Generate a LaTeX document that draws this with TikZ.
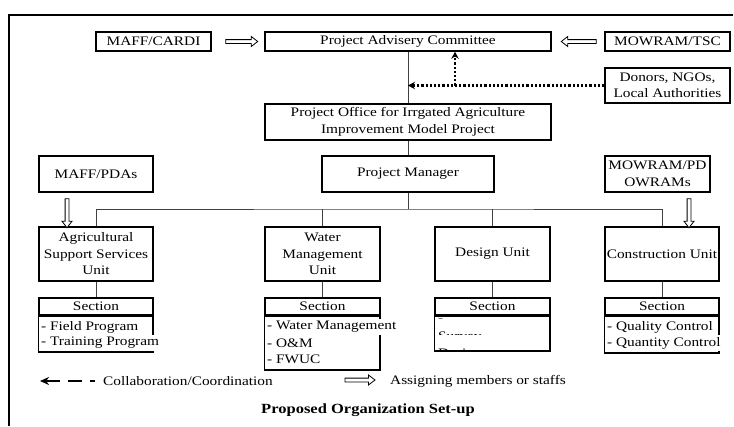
\documentclass[tikz,border=0pt]{standalone}
\usepackage{fontspec}
\setmainfont{Liberation Serif}[FakeStretch=1.18]
\usetikzlibrary{arrows.meta}
\newcommand\fs{\fontsize{13}{16.5}\selectfont}
\tikzset{
  box/.style={draw, line width=1.5pt, inner sep=0pt, align=center, font=\fs},
  conn/.style={line width=0.9pt, draw=black!75},
  item/.style={anchor=west, inner xsep=0pt, inner ysep=2.5pt, fill=white, font=\fs},
  txt/.style={inner sep=0pt, font=\fs},
  dotarrow/.style={line width=2.2pt, dash pattern=on 2.2pt off 2pt, -{Stealth[length=7pt,width=7.5pt]}},
  hollowarrow/.pic={\draw[line width=0.8pt, fill=white] (0,-1.9) -- (#1-6.5,-1.9) -- (#1-6.5,-5) -- (#1,0) -- (#1-6.5,5) -- (#1-6.5,1.9) -- (0,1.9) -- cycle;}
}
\begin{document}
\begin{tikzpicture}[x=1pt,y=-1pt]
\useasboundingbox (0,0) rectangle (734,426);
% frame
\draw[line width=1.5pt] (9,426) -- (9,15) -- (733,15);

% top row
\node[box, minimum width=115, minimum height=19] (cardi) at (153.5,41.5) {MAFF/CARDI};
\node[box, minimum width=286, minimum height=19] (pac) at (408,41.5) {Project Advisery Committee};
\node[box, minimum width=125, minimum height=19] (tsc) at (667.5,41.5) {MOWRAM/TSC};
\node[box, minimum width=125, minimum height=35] (donors) at (667.5,85.5) {Donors, NGOs,\\Local Authorities};
\node[box, minimum width=286, minimum height=36] (office) at (408,122) {Project Office for Irrgated Agriculture\\Improvement Model Project};
\node[box, minimum width=172, minimum height=36] (pm) at (408,174) {Project Manager};
\node[box, minimum width=114, minimum height=36] (pdas) at (96,174) {MAFF/PDAs};
\node[box, minimum width=105, minimum height=36] (pd) at (657.5,174) {MOWRAM/PD\\OWRAMs};

% units
\node[box, minimum width=114, minimum height=54] (ag) at (96,254) {Agricultural\\Support Services\\Unit};
\node[box, minimum width=115, minimum height=54] (water) at (322.5,254) {Water\\Management\\Unit};
\node[box, minimum width=115, minimum height=54] (design) at (492.5,254) {Design Unit};
\node[box, minimum width=114, minimum height=54] (constr) at (662,254) {Construction Unit};

% connectors
\draw[conn] (pac.south) -- (office.north);
\draw[conn] (office.south) -- (pm.north);
\coordinate (bus) at (408,209);
\draw[conn] (pm.south) -- (bus);
\draw[conn] (ag.north) |- (bus) -| (constr.north);
\draw[conn] (water.north) -- (water.north |- bus);
\draw[conn] (design.north) -- (design.north |- bus);

% sections headers
\node[box, minimum width=114, minimum height=17] (agsec) at (96,306.5) {Section};
\node[box, minimum width=115, minimum height=17] (watersec) at (322.5,306.5) {Section};
\node[box, minimum width=115, minimum height=17] (designsec) at (492.5,306.5) {Section};
\node[box, minimum width=114, minimum height=17] (constrsec) at (662,306.5) {Section};
\draw[conn] (ag.south) -- (agsec.north);
\draw[conn] (water.south) -- (watersec.north);
\draw[conn] (design.south) -- (designsec.north);
\draw[conn] (constr.south) -- (constrsec.north);

% section lists
\draw[line width=1.5pt] (agsec.south west) rectangle (153,352);
\node[item] at (41,327) {- Field Program};
\node[item] at (41,343) {- Training Program};

\draw[line width=1.5pt] (watersec.south west) rectangle (380,370);
\node[item] at (267,327) {- Water Management};
\node[item] at (267,343) {- O\&M};
\node[item] at (267,359) {- FWUC};

\draw[line width=1.5pt] (designsec.south west) rectangle (550,351);
\begin{scope}
\clip (436,316) rectangle (549,350.5);
\node[txt, anchor=base west] at (438,322) {-};
\fill[white] (436,318.6) rectangle (549,329);
\node[txt, anchor=base west] at (438,340) {Survey};
\fill[white] (436,335) rectangle (549,346.5);
\node[txt, anchor=base west] at (438,357) {Design};
\end{scope}

\draw[line width=1.5pt] (constrsec.south west) rectangle (719,353);
\node[item] at (607,327) {- Quality Control};
\node[item] at (607,343) {- Quantity Control};

% dotted collaboration arrows
\draw[dotarrow] (donors.west) -- (donors.west -| pac.south);
\coordinate (dj) at (455,85.5);
\draw[dotarrow] (dj) -- (dj |- pac.south);

% assigning arrows
\path (cardi.east) ++(14,0) pic {hollowarrow=32};
\path (tsc.west) ++(-8,0) pic[rotate=180] {hollowarrow=35};
\path (pdas.south) ++(-29,6) pic[rotate=-90] {hollowarrow=29};
\path (pd.south) ++(31.5,6) pic[rotate=-90] {hollowarrow=29};

% legend
\coordinate (l1a) at (95,381);
\coordinate (l1b) at (40,381);
\draw[line width=1.8pt, dash pattern=on 5pt off 8pt on 14pt off 8pt on 30pt, -{Stealth[length=9pt,width=8pt]}] (l1a) -- (l1b);
\node[txt, anchor=west] (leg1) at (103,381) {Collaboration/Coordination};
\coordinate (l2) at (345,380);
\path (l2) pic {hollowarrow=30};
\node[txt, anchor=west] (leg2) at (390,381) {Assigning members or staffs};

% title
\node[txt, font=\fontsize{14}{17}\selectfont\bfseries] (title) at (368,410) {Proposed Organization Set-up};
\end{tikzpicture}
\end{document}
